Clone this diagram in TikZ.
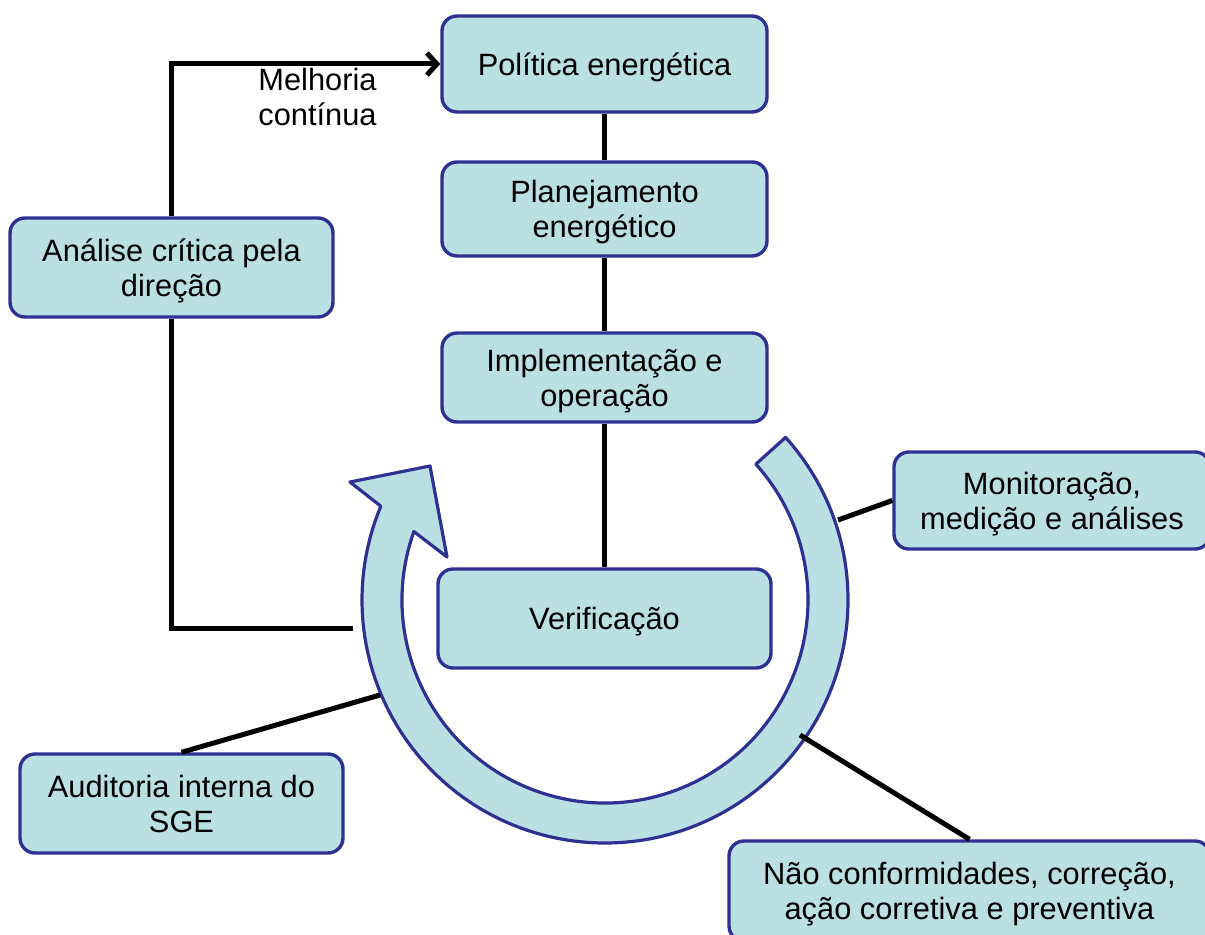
\documentclass[tikz,border=0pt]{standalone}
\usepackage{fontspec}
\setmainfont{Liberation Sans}
\usetikzlibrary{arrows.meta,calc}
\definecolor{boxfill}{RGB}{186,224,228}
\definecolor{boxline}{RGB}{46,49,146}
\begin{document}
\begin{tikzpicture}[x=0.5pt,y=0.5pt,
  box/.style={draw=boxline,fill=boxfill,line width=1.7pt,rounded corners=7.5pt,align=center,inner sep=0pt,text depth=0pt,font=\fontsize{15.4}{17.6}\selectfont},
  conn/.style={line width=2.5pt,black},
  ring/.style={draw=boxline,fill=boxfill,line width=1.6pt,line join=round},
  lbl/.style={font=\fontsize{15.4}{17.8}\selectfont,align=left,inner sep=0pt}]
\useasboundingbox (0,0) rectangle (1205,934);
\coordinate (C) at (605,334);
\draw[ring] ($(C)+(42:243)$) arc[start angle=42,end angle=-202.7,radius=243] -- (350,452) -- (430,468) -- (447,377) -- ($(C)+(160.3:203)$) arc[start angle=-199.7,end angle=42,radius=203] -- cycle;

\node[box,minimum width=162.5pt,minimum height=48pt] (pol) at (604.5,870) {Política energética};
\node[box,minimum width=162.5pt,minimum height=47pt] (plan) at (604.5,725) {Planejamento\\energético};
\node[box,minimum width=162.5pt,minimum height=44.5pt] (impl) at (604.5,556.5) {Implementação e\\operação};
\node[box,minimum width=166.5pt,minimum height=49.5pt] (ver) at (604.5,315.5) {Verificação};
\node[box,minimum width=161.5pt,minimum height=49.5pt] (anal) at (171.5,666.5) {Análise crítica pela\\direção};
\node[box,minimum width=158pt,minimum height=48.5pt] (mon) at (1052,433.5) {Monitoração,\\medição e análises};
\node[box,minimum width=161.5pt,minimum height=49.5pt] (aud) at (181.5,130.5) {Auditoria interna do\\SGE};
\node[box,minimum width=240.5pt,minimum height=50pt] (nao) at (969.5,43) {Não conformidades, correção,\\ação corretiva e preventiva};
\node[lbl,anchor=north west] (mel) at (258,866.5) {Melhoria\\contínua};

\draw[conn] (pol) -- (plan);
\draw[conn] (plan) -- (impl);
\draw[conn] (impl) -- (ver);
\draw[conn,-{Straight Barb[length=5pt,width=11pt]}] (anal.north) |- (pol.west);
\coordinate (back) at (353,306);
\draw[conn] (anal.south) |- (back);
\coordinate (rmon) at (838,414);
\draw[conn] (rmon) -- (mon.west);
\coordinate (rnao) at (800,199);
\draw[conn] (rnao) -- (nao.north);
\coordinate (raud) at (380,239);
\draw[conn] (aud.north) -- (raud);
\end{tikzpicture}
\end{document}
